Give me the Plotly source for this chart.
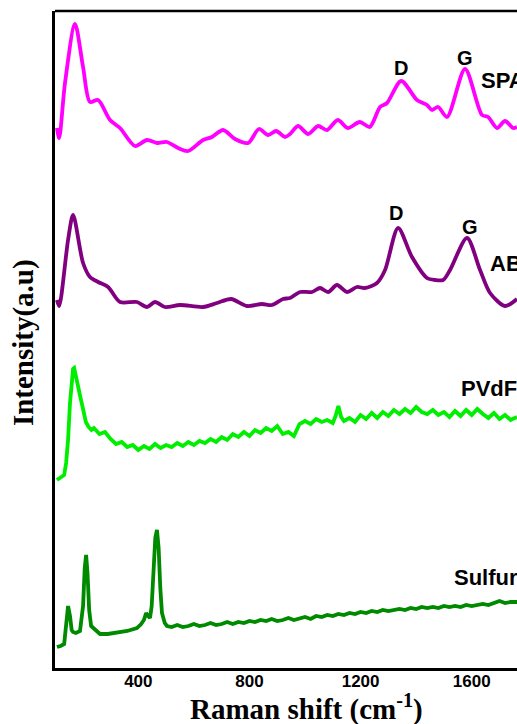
import plotly.graph_objects as go

# ---------------- data (Raman shift in cm^-1, intensity in arbitrary units) ----------------
spa_x = [107, 115, 136, 172, 201, 226, 255, 298, 334, 388, 431, 467, 503, 543, 579, 633, 665, 705,
         748, 795, 834, 867, 896, 928, 946, 975, 1011, 1047, 1079, 1118, 1154, 1197, 1233, 1270,
         1295, 1346, 1403, 1439, 1457, 1479, 1511, 1576, 1637, 1659, 1691, 1720, 1749, 1763]
spa_y = [540, 530, 585, 644, 601, 566, 568, 548, 540, 522, 528, 525, 526, 520, 517, 528, 531, 538,
         529, 525, 539, 533, 537, 531, 534, 542, 534, 542, 538, 548, 540, 546, 541, 561,
         565, 587, 568, 563, 558, 561, 551, 599, 553, 551, 540, 547, 540, 541]

ab_x = [107, 115, 147, 165, 201, 226, 255, 291, 334, 395, 431, 460, 496, 550, 633, 683, 734, 791,
        845, 881, 921, 946, 982, 1025, 1054, 1083, 1115, 1151, 1187, 1215, 1259, 1288, 1335,
        1385, 1439, 1468, 1497, 1522, 1583, 1630, 1666, 1720, 1763]
ab_y = [368, 362, 428, 453, 405, 391, 386, 381, 366, 366, 361, 366, 361, 363, 361, 365, 369, 362,
        364, 363, 369, 370, 376, 376, 380, 376, 383, 376, 381, 380, 385, 398, 440,
        411, 390, 388, 388, 398, 430, 398, 375, 362, 369]

pvdf_x = [107, 120, 133, 140, 147, 154, 161, 165, 169, 176, 183, 192, 201, 211, 221, 231, 240, 260,
          280, 300, 320, 340, 360, 380, 400, 420, 440, 460, 480, 500, 520, 540, 560, 580, 600, 620,
          640, 660, 680, 700, 720, 740, 760, 780, 800, 820, 840, 860, 880, 900, 920, 940, 960, 980,
          1000, 1020, 1040, 1060, 1080, 1100, 1110, 1120, 1130, 1140, 1160, 1180, 1200, 1220, 1240,
          1260, 1280, 1300, 1320, 1340, 1360, 1380, 1400, 1420, 1440, 1460, 1480, 1500, 1520, 1540,
          1560, 1580, 1600, 1620, 1640, 1660, 1680, 1700, 1720, 1740, 1763]
pvdf_y = [188, 190, 193, 205, 228, 265, 296, 299, 300, 292, 283, 270, 259, 246, 241, 238, 240, 234,
          236, 229, 224, 226, 221, 223, 218, 222, 219, 224, 220, 223, 221, 225, 222, 226, 223, 227,
          225, 229, 226, 231, 228, 234, 231, 236, 232, 238, 235, 240, 237, 242, 234, 236, 232, 244,
          247, 244, 249, 246, 248, 245, 252, 262, 251, 247, 250, 246, 253, 249, 255,
          250, 256, 252, 258, 254, 259, 255, 261, 256, 254, 258, 253, 256, 251, 257,
          252, 258, 253, 259, 254, 250, 255, 249, 253, 248, 251]

sulfur_x = [107, 120, 133, 140, 147, 154, 160, 165, 175, 190, 201, 207, 212, 217, 223, 230, 244, 262,
            290, 323, 360, 395, 410, 420, 428, 435, 442, 448, 455, 461, 467, 473, 479, 485, 495, 503,
            520, 540, 560, 580, 600, 620, 640, 660, 680, 700, 720, 740, 760, 780, 800, 820, 840, 860,
            880, 900, 920, 940, 960, 980, 1000, 1020, 1040, 1060, 1080, 1100, 1120, 1140, 1160, 1180,
            1200, 1220, 1240, 1260, 1280, 1300, 1320, 1340, 1360, 1380, 1400, 1420, 1440, 1460, 1480,
            1500, 1520, 1540, 1560, 1580, 1600, 1620, 1640, 1660, 1680, 1700, 1720, 1740, 1763]
sulfur_y = [21, 22, 24, 40, 62, 52, 38, 36, 35, 37, 62, 100, 113, 95, 58, 42, 38, 34,
            34, 35, 37, 40, 44, 48, 55, 52, 50, 62, 95, 130, 138, 120, 80, 55, 45, 42,
            41, 43, 41, 42, 44, 42, 43, 45, 43, 44, 46, 44, 46, 45, 47, 46, 48, 47,
            49, 47, 48, 50, 48, 50, 51, 49, 52, 51, 53, 52, 54, 53, 55, 54,
            56, 55, 57, 56, 58, 57, 58, 59, 58, 60, 59, 61, 60, 61, 60,
            62, 61, 62, 61, 63, 62, 63, 64, 63, 65, 67, 65, 66, 66]

x_ticks = [400, 800, 1200, 1600]
x_range = [100, 1763]
y_range = [0, 657]

# peak / sample labels: (text, x, y, xanchor, font size)
labels = [("D", 1346, 600, "center", 20), ("G", 1576, 610, "center", 20),
          ("SPA", 1626, 588, "left", 22),
          ("D", 1328, 455, "center", 20), ("G", 1594, 441, "center", 20),
          ("AB", 1660, 405, "left", 22),
          ("PVdF", 1554, 280, "left", 22), ("Sulfur", 1529, 91, "left", 22)]

fig = go.Figure()
fig.add_trace(go.Scatter(x=sulfur_x, y=sulfur_y, mode="lines",
                         line=dict(color="#008a00", width=3.8)))
fig.add_trace(go.Scatter(x=pvdf_x, y=pvdf_y, mode="lines",
                         line=dict(color="#00ee00", width=3.8)))
fig.add_trace(go.Scatter(x=ab_x, y=ab_y, mode="lines",
                         line=dict(color="#800080", width=3.8, shape="spline", smoothing=0.8)))
fig.add_trace(go.Scatter(x=spa_x, y=spa_y, mode="lines",
                         line=dict(color="#ff00ff", width=3.8, shape="spline", smoothing=0.8)))

annos = []
for t, x, y, xa, fs in labels:
    annos.append(dict(text=f"<b>{t}</b>", x=x, y=y, xref="x", yref="y", xanchor=xa,
                      yanchor="middle", showarrow=False,
                      font=dict(family="Liberation Sans, Arial", size=fs, color="black")))
annos.append(dict(text="<b>Raman shift (cm<sup>-1</sup>)</b>", x=0.544, y=-0.0595,
                  xref="paper", yref="paper", xanchor="center", yanchor="middle", showarrow=False,
                  font=dict(family="Liberation Serif, Times New Roman", size=29, color="black")))
annos.append(dict(text="<b>Intensity(a.u)</b>", x=-0.0693, y=0.496,
                  xref="paper", yref="paper", xanchor="center", yanchor="middle", showarrow=False,
                  textangle=-90,
                  font=dict(family="Liberation Serif, Times New Roman", size=29, color="black")))

fig.update_layout(
    width=517, height=724,
    margin=dict(l=55, r=0, t=11, b=56),
    paper_bgcolor="white", plot_bgcolor="white",
    showlegend=False,
    hovermode=False,
    annotations=annos,
    shapes=[dict(type="line", xref="paper", yref="paper", x0=0, x1=1, y0=1, y1=1,
                 line=dict(color="black", width=2.5))],
    xaxis=dict(range=x_range, tickvals=x_ticks, ticktext=[f"<b>{v}</b>" for v in x_ticks],
               showgrid=False, zeroline=False, showline=True, linecolor="black", linewidth=3,
               ticks="", ticklabelstandoff=-4,
               tickfont=dict(family="Liberation Sans, Arial", size=17, color="black")),
    yaxis=dict(range=y_range, showticklabels=False, showgrid=False, zeroline=False,
               showline=True, linecolor="black", linewidth=3, ticks=""),
)

fig.write_html("out.html", config={"displayModeBar": False},
               post_script="document.body.style.margin='0';document.body.style.overflow='hidden';")
